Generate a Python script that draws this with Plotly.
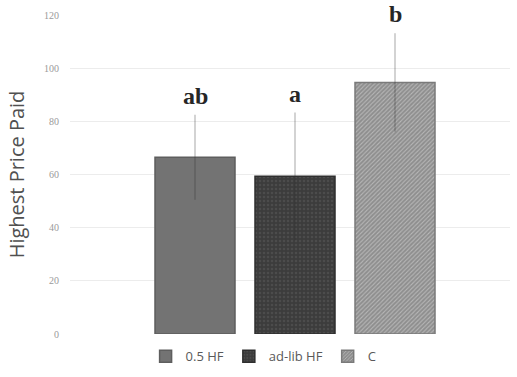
import plotly.graph_objects as go

# Group means, error half-widths and significance letters
groups = ["0.5 HF", "ad-lib HF", "C"]
means = [66.5, 59.3, 94.6]
errors = [16.0, 24.0, 18.5]
letters = ["ab", "a", "b"]

y_ticks = [0, 20, 40, 60, 80, 100, 120]

styles = [
    dict(color="#737373", line=dict(color="#5e5e5e", width=1.5)),
    dict(color="#3c3c3c", line=dict(color="#2e2e2e", width=1.5),
         pattern=dict(shape=".", fgcolor="#5c5c5c", bgcolor="#3c3c3c", size=4, solidity=0.3)),
    dict(color="#9a9a9a", line=dict(color="#7a7a7a", width=1.5),
         pattern=dict(shape="/", fgcolor="#e0e0e0", bgcolor="#8e8e8e", size=3, solidity=0.35)),
]

fig = go.Figure()
for i, (g, m, e, st) in enumerate(zip(groups, means, errors, styles)):
    fig.add_trace(go.Bar(
        x=[i], y=[m], name=g, width=0.8,
        marker=st,
        error_y=dict(type="data", array=[e], color="rgba(50,50,50,0.33)", thickness=1.3, width=0),
    ))

for i, (m, e, t) in enumerate(zip(means, errors, letters)):
    fig.add_annotation(
        x=i, y=m + e, text=f"<b>{t}</b>", showarrow=False,
        yanchor="bottom", yshift=4,
        font=dict(family="Liberation Serif", size=24, color="#262626"),
    )

fig.update_layout(
    width=517, height=377,
    margin=dict(l=70, r=7, t=15, b=42),
    plot_bgcolor="white", paper_bgcolor="white",
    showlegend=True,
    legend=dict(orientation="h", x=0.44, xanchor="center", y=-0.02, yanchor="top",
                font=dict(family="Open Sans", size=13, color="#595959"),
                itemwidth=30, traceorder="normal"),
    xaxis=dict(range=[-1.25, 3.15], showticklabels=False, showgrid=False,
               zeroline=False, showline=False, fixedrange=True),
    yaxis=dict(range=[0, 120], tickvals=y_ticks, showgrid=True, gridcolor="#ececec",
               gridwidth=1, zeroline=False, showline=False,
               tickfont=dict(family="Liberation Serif", size=10, color="#9a9a9a"),
               ticklabelstandoff=10,
               title=dict(text="Highest Price Paid", standoff=14,
                          font=dict(family="Open Sans", size=20, color="#505050"))),
    barmode="overlay",
)

fig.write_html("out.html")
